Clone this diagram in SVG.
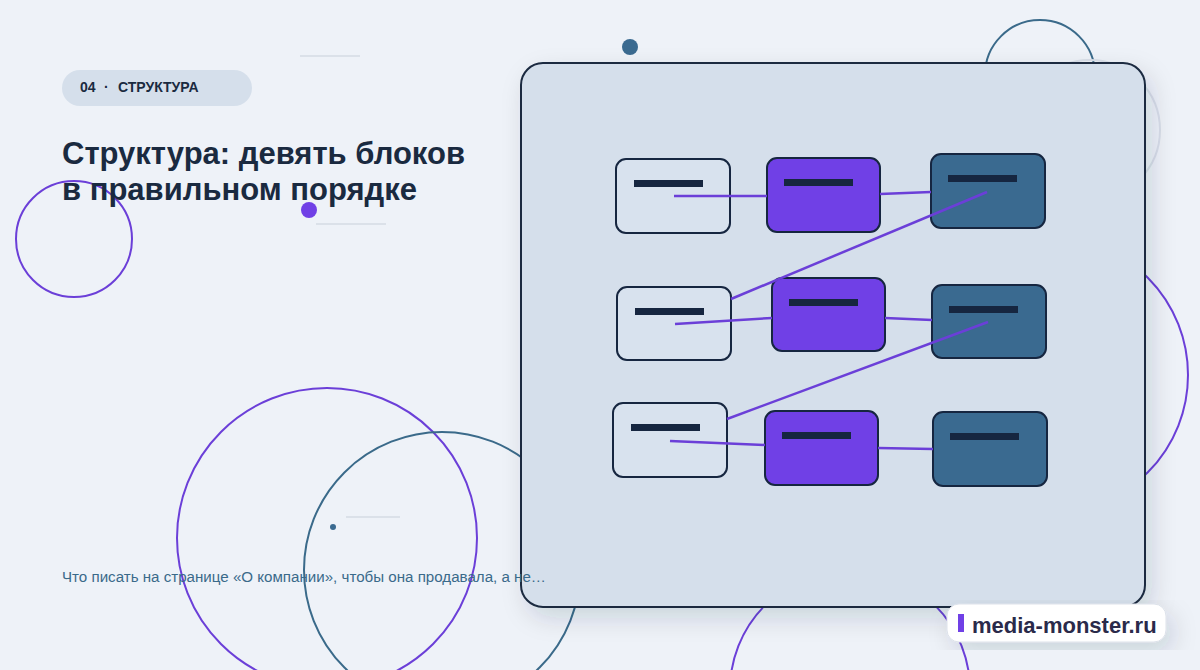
<svg xmlns="http://www.w3.org/2000/svg" width="1200" height="670" viewBox="0 0 1200 670">
<defs>
<filter id="sh" x="-10%" y="-10%" width="130%" height="130%"><feDropShadow dx="6" dy="10" stdDeviation="12" flood-color="#1a2a40" flood-opacity="0.15"/></filter>
<style>
.t{font-family:"Liberation Sans",Arial,sans-serif}
.n{stroke:#162640;stroke-width:2}
.l{fill:#d8e2ee}.p{fill:#7040e6}.b{fill:#3a6a90}
.bar{fill:#162640}
.c{stroke:#6b3fd8;stroke-width:2.5;fill:none}
.deco{fill:none;stroke-width:2}
</style>
</defs>
<rect width="1200" height="670" fill="#eef2f8"/>
<g id="decor">
<circle cx="74" cy="239" r="58" class="deco" stroke="#6b3fd8"/>
<circle cx="327" cy="538" r="150" class="deco" stroke="#6b3fd8"/>
<circle cx="442" cy="570" r="138" class="deco" stroke="#3a6a8a"/>
<circle cx="850" cy="690" r="120" class="deco" stroke="#6b3fd8"/>
<circle cx="1050" cy="375" r="138" class="deco" stroke="#6b3fd8"/>
<circle cx="1040" cy="75" r="55" class="deco" stroke="#3a6a8a"/>
<circle cx="1090" cy="130" r="70" class="deco" stroke="#d8dee8" stroke-width="1.5"/>
<circle cx="630" cy="47" r="8" fill="#3a6a90"/>
<circle cx="309" cy="210" r="8" fill="#7040e6"/>
<circle cx="333" cy="527" r="3" fill="#3a6a90"/>
<g stroke="#d4dbe4" stroke-width="1.5"><line x1="300" y1="56" x2="360" y2="56"/><line x1="316" y1="224" x2="386" y2="224"/><line x1="346" y1="517" x2="400" y2="517"/></g>
</g>
<rect id="panel" x="521" y="63" width="624" height="544" rx="22" fill="#d5dfeb" stroke="#1a2a40" stroke-width="2" filter="url(#sh)"/>
<g id="header">
<rect x="62" y="70" width="190" height="36" rx="18" fill="#d5dfeb"/>
<text y="92" class="t" font-size="14" font-weight="bold" fill="#1a2a40"><tspan x="80">04</tspan><tspan x="104">·</tspan><tspan x="118">СТРУКТУРА</tspan></text>
<text class="t" font-size="31" font-weight="bold" fill="#1a2a40"><tspan x="62" y="164">Структура: девять блоков</tspan><tspan x="62" y="200">в правильном порядке</tspan></text>
<text x="62" y="582" class="t" font-size="14" fill="#3a6a8a" textLength="484" lengthAdjust="spacingAndGlyphs">Что писать на странице «О компании», чтобы она продавала, а не…</text>
</g>
<g id="n1"><rect class="n l" x="616" y="159" width="114" height="74" rx="10"/><rect class="bar" x="634" y="180" width="69" height="7"/></g>
<g id="n2"><rect class="n p" x="767" y="158" width="113" height="74" rx="10"/><rect class="bar" x="784" y="179" width="69" height="7"/></g>
<g id="n3"><rect class="n b" x="931" y="154" width="114" height="74" rx="10"/><rect class="bar" x="948" y="175" width="69" height="7"/></g>
<g id="n4"><rect class="n l" x="617" y="287" width="114" height="73" rx="10"/><rect class="bar" x="635" y="308" width="69" height="7"/></g>
<g id="n5"><rect class="n p" x="772" y="278" width="113" height="73" rx="10"/><rect class="bar" x="789" y="299" width="69" height="7"/></g>
<g id="n6"><rect class="n b" x="932" y="285" width="114" height="73" rx="10"/><rect class="bar" x="949" y="306" width="69" height="7"/></g>
<g id="n7"><rect class="n l" x="613" y="403" width="114" height="74" rx="10"/><rect class="bar" x="631" y="424" width="69" height="7"/></g>
<g id="n8"><rect class="n p" x="765" y="411" width="113" height="74" rx="10"/><rect class="bar" x="782" y="432" width="69" height="7"/></g>
<g id="n9"><rect class="n b" x="933" y="412" width="114" height="74" rx="10"/><rect class="bar" x="950" y="433" width="69" height="7"/></g>
<g id="connectors" class="c">
<line x1="674" y1="196" x2="767" y2="196"/>
<line x1="880" y1="194" x2="931" y2="192"/>
<line x1="987" y1="192" x2="731" y2="299"/>
<line x1="675" y1="324" x2="772" y2="318"/>
<line x1="885" y1="318" x2="932" y2="320"/>
<line x1="988" y1="322" x2="727" y2="419"/>
<line x1="670" y1="441" x2="765" y2="445"/>
<line x1="878" y1="448" x2="933" y2="449"/>
</g>
<g id="badge">
<rect x="947" y="604" width="219" height="38" rx="12" fill="#fff" stroke="#dde2ea" filter="url(#sh)"/>
<rect x="958" y="614" width="6" height="18" fill="#7040e6"/>
<text x="972" y="633" class="t" font-size="22" font-weight="bold" fill="#2a2a4a">media-monster.ru</text>
</g>
</svg>
